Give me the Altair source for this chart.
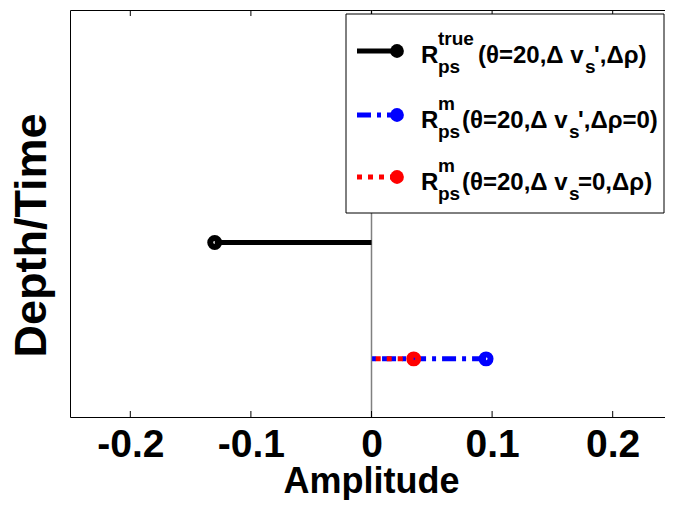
import altair as alt
import pandas as pd

F = "Liberation Sans"

# data
series = ["true", "m_vs", "m_rho"]
amplitude = [-0.13, 0.095, 0.035]
depth = [2, 3, 3]
colors = ["#000000", "#0000ff", "#ff0000"]
dashes = [[1, 0], [14, 6, 4, 6], [5, 6]]
xticks = [-0.2, -0.1, 0, 0.1, 0.2]

W, H = 603, 407
xscale = alt.Scale(domain=[-0.25, 0.25], nice=False, zero=False)
yscale = alt.Scale(domain=[0, 3.5], reverse=True, nice=False, zero=False)

df = pd.DataFrame({"series": series, "amp": amplitude, "depth": depth,
                   "base": [0, 0, 0]})

xaxis = alt.Axis(values=xticks, title="Amplitude", ticks=False, domain=False,
                 grid=False, labelFont=F, labelFontSize=39, labelFontWeight="bold",
                 labelColor="black", labelPadding=8, titleFont=F,
                 titleFontSize=36, titleFontWeight="bold", titleColor="black",
                 titleBaseline="alphabetic", titleX=301, titleY=75,
                 labelFlush=False,
                 labelExpr="datum.value == 0 ? '0' : (datum.value < 0 ? '-' : '') + format(abs(datum.value), '.1f')")
yaxis = alt.Axis(title="Depth/Time", labels=False, ticks=False, domain=False,
                 grid=False, titleFont=F, titleFontSize=45, titleFontWeight="bold",
                 titleColor="black", titleX=-25, titleY=225,
                 titleBaseline="alphabetic", titleAngle=270)


def X(f):
    return alt.X(f, scale=xscale, axis=xaxis)


def Y(f):
    return alt.Y(f, scale=yscale, axis=yaxis)


zero = alt.Chart(pd.DataFrame({"z": [0], "d": [0]})).mark_rule(
    color="#808080", strokeWidth=1.5).encode(
    x=X("z:Q"), y=Y("d:Q"), y2=alt.value(H))

tdf = pd.DataFrame({"t": xticks})
tick_bot = alt.Chart(tdf).mark_rule(color="black", strokeWidth=1).encode(
    x=X("t:Q"), y=alt.value(H - 6), y2=alt.value(H))
tick_top = alt.Chart(tdf).mark_rule(color="black", strokeWidth=1).encode(
    x=X("t:Q"), y=alt.value(0), y2=alt.value(6))

layers = [zero, tick_bot, tick_top]
for s, c, d in zip(series, colors, dashes):
    sub = df[df.series == s]
    layers.append(alt.Chart(sub).mark_rule(color=c, strokeWidth=5, strokeDash=d,
                                           strokeCap="butt").encode(
        x=X("amp:Q"), x2="base:Q", y=Y("depth:Q")))
    layers.append(alt.Chart(sub).mark_point(shape="circle", filled=False, color=c,
                                            strokeWidth=6, size=80, opacity=1).encode(
        x=X("amp:Q"), y=Y("depth:Q")))

# legend box
one = pd.DataFrame({"k": [0]})
layers.append(alt.Chart(one).mark_rect(fill="white", stroke="black", strokeWidth=1).encode(
    x=alt.value(276), x2=alt.value(594), y=alt.value(4), y2=alt.value(203)))

leg_y = [41, 105, 167]
for c, d, ly in zip(colors, dashes, leg_y):
    layers.append(alt.Chart(one).mark_rule(color=c, strokeWidth=5, strokeDash=d,
                                           strokeCap="butt").encode(
        x=alt.value(287), x2=alt.value(327), y=alt.value(ly)))
    layers.append(alt.Chart(one).mark_point(shape="circle", filled=True, color=c,
                                            size=190, opacity=1).encode(
        x=alt.value(327), y=alt.value(ly)))


def txt(t, x, y, size):
    return alt.Chart(one).mark_text(text=t, font=F, fontSize=size, fontWeight="bold",
                                    align="left", baseline="alphabetic",
                                    color="black").encode(x=alt.value(x), y=alt.value(y))


sup = ["true", "m", "m"]
mid = ["(θ=20,Δ v", "(θ=20,Δ v", "(θ=20,Δ v"]
tail = ["',Δρ)", "',Δρ=0)", "=0,Δρ)"]
base_y = [53, 118, 180]
mid_x = [408, 392, 392]
for su, mi, ta, by, mx in zip(sup, mid, tail, base_y, mid_x):
    layers.append(txt("R", 351, by, 24))
    layers.append(txt(su, 368, by - 18, 19))
    layers.append(txt("ps", 368, by + 10, 19))
    layers.append(txt(mi, mx, by, 24))
    sx = mx + 107
    layers.append(txt("s", sx, by + 10, 19))
    layers.append(txt(ta, sx + 9, by, 24))

chart = alt.layer(*layers).properties(
    width=W, height=H,
    autosize=alt.AutoSizeParams(type="none"),
    padding={"left": 62, "top": 2, "right": -8, "bottom": 83},
    background="white",
).configure_view(stroke="black", strokeWidth=1)

chart.save("out.html", embed_options={"renderer": "svg", "actions": False})
